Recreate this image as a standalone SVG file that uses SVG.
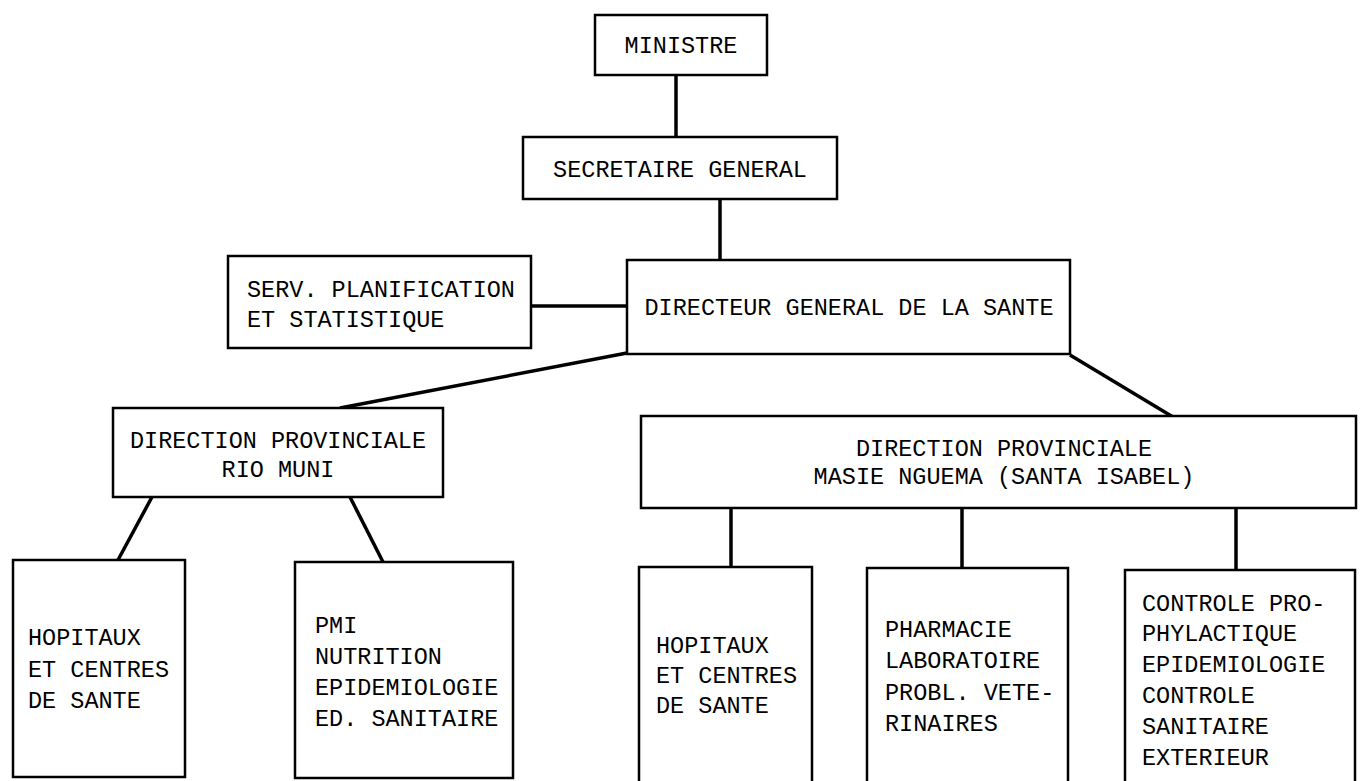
<svg xmlns="http://www.w3.org/2000/svg" width="1360" height="781" viewBox="0 0 1360 781">
<style>
.box{fill:#fff;stroke:#000;stroke-width:2.5}
.conn{stroke:#000;stroke-width:3.5;fill:none;stroke-linecap:butt}
.t{font-family:"Liberation Mono","Courier New",monospace;font-size:23.5px;fill:#000}
.c{text-anchor:middle}
</style>
<rect width="1360" height="781" fill="#fff"/>
<g id="connectors">
<line class="conn" x1="676" y1="75" x2="676" y2="137"/>
<line class="conn" x1="720" y1="199" x2="720" y2="260"/>
<line class="conn" x1="531" y1="306" x2="627" y2="306"/>
<line class="conn" x1="627" y1="353" x2="340" y2="408"/>
<line class="conn" x1="1070" y1="355" x2="1173" y2="417"/>
<line class="conn" x1="152" y1="497" x2="118" y2="560"/>
<line class="conn" x1="350" y1="497" x2="383" y2="562" stroke-width="4.5"/>
<line class="conn" x1="731" y1="508" x2="731" y2="567"/>
<line class="conn" x1="962" y1="508" x2="962" y2="568"/>
<line class="conn" x1="1236" y1="509" x2="1236" y2="570"/>
</g>
<g id="ministre">
<rect class="box" x="595" y="15" width="172" height="60"/>
<text class="t c" x="681" y="53">MINISTRE</text>
</g>
<g id="secretaire">
<rect class="box" x="523" y="137" width="314" height="62"/>
<text class="t c" x="680" y="177">SECRETAIRE GENERAL</text>
</g>
<g id="serv-planif">
<rect class="box" x="228" y="256" width="303" height="92"/>
<text class="t" x="247" y="297">SERV. PLANIFICATION</text>
<text class="t" x="247" y="327">ET STATISTIQUE</text>
</g>
<g id="directeur">
<rect class="box" x="627" y="260" width="443" height="94"/>
<text class="t c" x="849" y="315">DIRECTEUR GENERAL DE LA SANTE</text>
</g>
<g id="dp-rio-muni">
<rect class="box" x="113" y="408" width="330" height="89"/>
<text class="t c" x="278" y="448">DIRECTION PROVINCIALE</text>
<text class="t c" x="278" y="477">RIO MUNI</text>
</g>
<g id="dp-masie">
<rect class="box" x="641" y="416" width="715" height="92"/>
<text class="t c" x="1004" y="456">DIRECTION PROVINCIALE</text>
<text class="t c" x="1004" y="484">MASIE NGUEMA (SANTA ISABEL)</text>
</g>
<g id="hopitaux-rm">
<rect class="box" x="13" y="560" width="172" height="217"/>
<text class="t" x="28" y="645">HOPITAUX</text>
<text class="t" x="28" y="677">ET CENTRES</text>
<text class="t" x="28" y="708">DE SANTE</text>
</g>
<g id="pmi">
<rect class="box" x="295" y="562" width="218" height="216"/>
<text class="t" x="315" y="633">PMI</text>
<text class="t" x="315" y="664">NUTRITION</text>
<text class="t" x="315" y="695">EPIDEMIOLOGIE</text>
<text class="t" x="315" y="726">ED. SANITAIRE</text>
</g>
<g id="hopitaux-mn">
<rect class="box" x="639" y="567" width="173" height="230"/>
<text class="t" x="656" y="653">HOPITAUX</text>
<text class="t" x="656" y="683">ET CENTRES</text>
<text class="t" x="656" y="713">DE SANTE</text>
</g>
<g id="pharmacie">
<rect class="box" x="867" y="568" width="201" height="230"/>
<text class="t" x="885" y="637">PHARMACIE</text>
<text class="t" x="885" y="668">LABORATOIRE</text>
<text class="t" x="885" y="700">PROBL. VETE-</text>
<text class="t" x="885" y="731">RINAIRES</text>
</g>
<g id="controle">
<rect class="box" x="1125" y="570" width="230" height="230"/>
<text class="t" x="1142" y="611">CONTROLE PRO-</text>
<text class="t" x="1142" y="641">PHYLACTIQUE</text>
<text class="t" x="1142" y="672">EPIDEMIOLOGIE</text>
<text class="t" x="1142" y="703">CONTROLE</text>
<text class="t" x="1142" y="734">SANITAIRE</text>
<text class="t" x="1142" y="765">EXTERIEUR</text>
</g>
</svg>
